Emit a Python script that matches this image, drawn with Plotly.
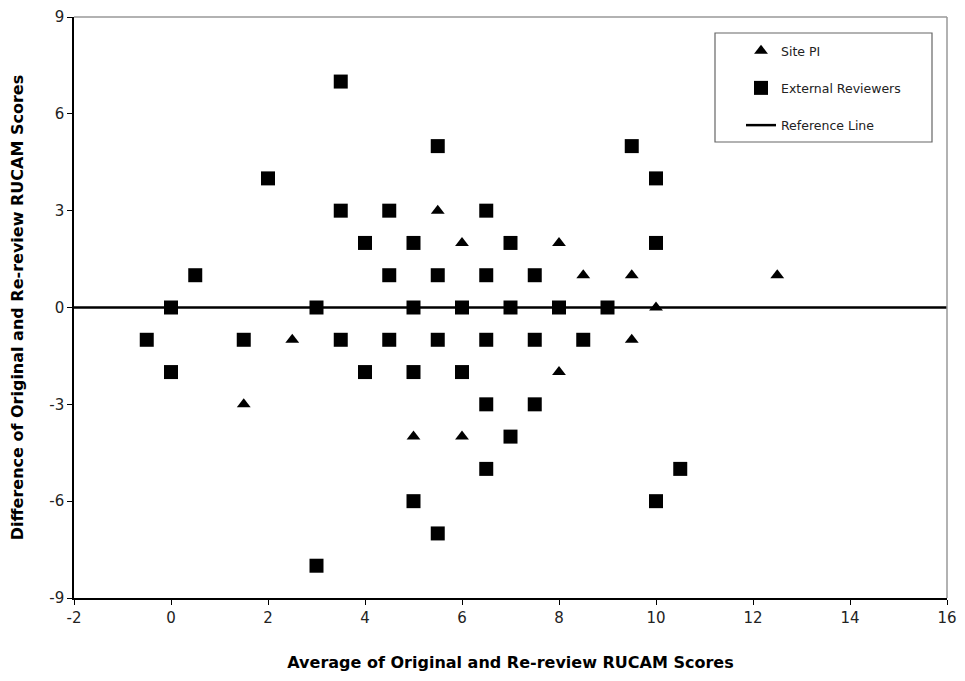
import plotly.graph_objects as go

# Site PI (triangles)
pi_x = [1.5, 2.5, 5, 5.5, 6, 6, 8, 8, 8.5, 9.5, 9.5, 10, 12.5]
pi_y = [-3, -1, -4, 3, 2, -4, 2, -2, 1, 1, -1, 0, 1]

# External Reviewers (squares)
ext_x = [-0.5, 0, 0, 0.5, 1.5, 2, 3, 3, 3.5, 3.5, 3.5, 4, 4, 4.5, 4.5, 4.5,
         5, 5, 5, 5, 5.5, 5.5, 5.5, 5.5, 6, 6, 6.5, 6.5, 6.5, 6.5, 6.5,
         7, 7, 7, 7.5, 7.5, 7.5, 8, 8.5, 9, 9.5, 10, 10, 10, 10.5]
ext_y = [-1, 0, -2, 1, -1, 4, 0, -8, 7, 3, -1, 2, -2, 3, 1, -1,
         2, 0, -2, -6, 5, 1, -1, -7, 0, -2, 3, 1, -1, -3, -5,
         2, 0, -4, 1, -1, -3, 0, -1, 0, 5, 4, 2, -6, -5]

# Reference line
ref_x = [-2, 16]
ref_y = [0, 0]

x_ticks = [-2, 0, 2, 4, 6, 8, 10, 12, 14, 16]
x_ticklabels = ["-2", "0", "2", "4", "6", "8", "10", "12", "14", "16"]
y_ticks = [-9, -6, -3, 0, 3, 6, 9]
y_ticklabels = ["-9", "-6", "-3", "0", "3", "6", "9"]

FONT = "'DejaVu Sans', sans-serif"

# page body has an 8px margin, so the figure is sized/placed to compensate
W, H = 957, 673
ML, MR, MT, MB = 66, 18, 9, 83
PW = W - ML - MR   # plot width in px
PH = H - MT - MB   # plot height in px
OX, OY = 8 + ML, 8 + MT  # screen position of plot top-left


def px(x):
    return (x - OX) / PW


def py(y):
    return (OY + PH - y) / PH


fig = go.Figure()
fig.add_trace(go.Scatter(x=pi_x, y=pi_y, mode="markers", name="Site PI",
                         marker=dict(symbol="triangle-up", size=12, color="black"),
                         legendrank=1, legendgroup="a"))
fig.add_trace(go.Scatter(x=ext_x, y=ext_y, mode="markers", name="External Reviewers",
                         marker=dict(symbol="square", size=14, color="black"),
                         legendrank=2, legendgroup="b"))
fig.add_trace(go.Scatter(x=ref_x, y=ref_y, mode="lines", name="Reference Line",
                         line=dict(color="black", width=2.5), legendrank=3,
                         legendgroup="c"))

fig.update_layout(
    width=W, height=H,
    margin=dict(l=ML, r=MR, t=MT, b=MB),
    paper_bgcolor="white", plot_bgcolor="white",
    font=dict(family=FONT, color="black", size=15),
    showlegend=True,
    legend=dict(x=px(741), xanchor="left", y=py(36), yanchor="top",
                borderwidth=0, bgcolor="rgba(0,0,0,0)",
                font=dict(size=12.5, color="#222222"), tracegroupgap=18,
                itemwidth=30),
    xaxis=dict(range=[-2, 16], tickvals=x_ticks, ticktext=x_ticklabels,
               ticks="outside", ticklen=5, automargin=False,
               tickwidth=1, tickcolor="black",
               showline=True, linecolor="black", linewidth=1.5,
               showgrid=False, zeroline=False,
               title=dict(text="<b>Average of Original and Re-review RUCAM Scores</b>",
                          font=dict(size=16), standoff=31),
               tickfont=dict(size=15, color="#222222")),
    yaxis=dict(range=[-9, 9], tickvals=y_ticks, ticktext=y_ticklabels,
               ticks="outside", ticklen=5, automargin=False,
               tickwidth=1, tickcolor="black",
               showline=True, linecolor="black", linewidth=1.5,
               showgrid=False, zeroline=False,
               title=dict(text="<b>Difference of Original and Re-review RUCAM Scores</b>",
                          font=dict(size=16), standoff=29),
               tickfont=dict(size=15, color="#222222")),
)

# Gray frame on top and right of plot area
fig.add_shape(type="line", xref="paper", yref="paper", x0=0, x1=1, y0=1, y1=1,
              line=dict(color="#999999", width=1.5))
fig.add_shape(type="line", xref="paper", yref="paper", x0=1, x1=1, y0=0, y1=1,
              line=dict(color="#999999", width=1.5))
# Legend frame
fig.add_shape(type="rect", xref="paper", yref="paper",
              x0=px(715), x1=px(932), y0=py(142), y1=py(33),
              line=dict(color="#666666", width=1.2), fillcolor="white", layer="below")

fig.write_html("out.html")
